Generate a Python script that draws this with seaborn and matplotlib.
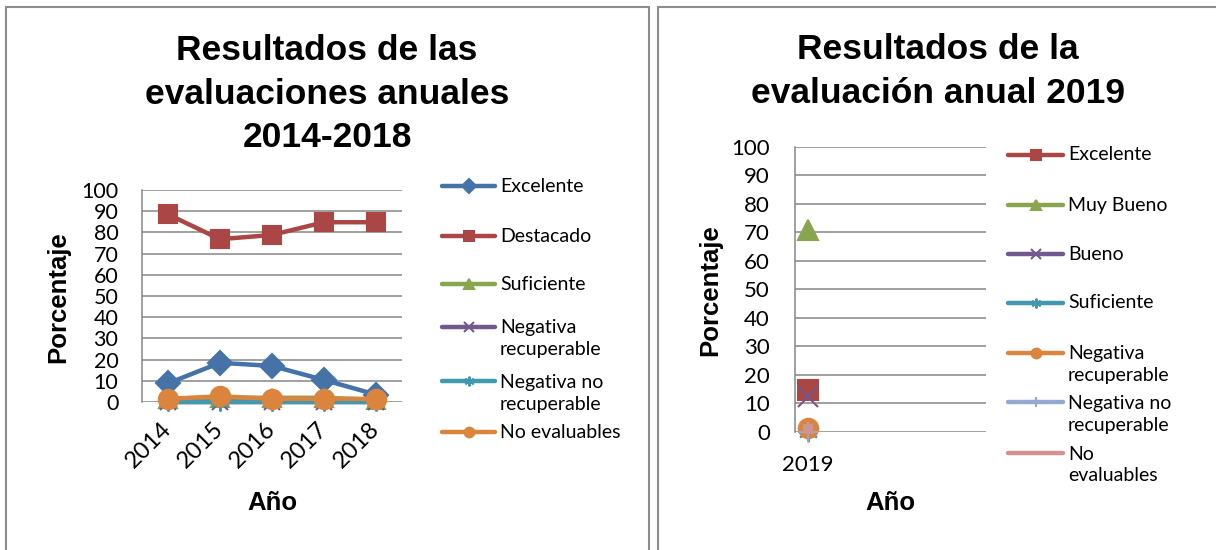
import matplotlib
matplotlib.use("Agg")
import matplotlib.pyplot as plt
import seaborn as sns
from matplotlib.lines import Line2D
from matplotlib.patches import Rectangle

# --------------------------------------------------
# Datos
# --------------------------------------------------
anios_a = ["2014", "2015", "2016", "2017", "2018"]
excelente_a = [8.8, 18.5, 17.0, 10.4, 3.5]
destacado_a = [88.5, 76.8, 78.8, 84.8, 84.8]
suficiente_a = [1.5, 2.0, 2.0, 2.0, 1.0]
neg_rec_a = [0, 0, 0, 0, 0]
neg_norec_a = [0, 0, 0, 0, 0]
no_eval_a = [1.5, 2.7, 1.5, 1.5, 1.5]
nombres_a = ["Excelente", "Destacado", "Suficiente",
             "Negativa\nrecuperable", "Negativa no\nrecuperable", "No evaluables"]

anio_b = ["2019"]
excelente_b = [14.6]
muy_bueno_b = [70.7]
bueno_b = [12.3]
suficiente_b = [0]
neg_rec_b = [1.2]
neg_norec_b = [0]
no_eval_b = [1.0]
nombres_b = ["Excelente", "Muy Bueno", "Bueno", "Suficiente",
             "Negativa\nrecuperable", "Negativa no\nrecuperable", "No\nevaluables"]

yticks = list(range(0, 101, 10))

# estilos (colores Excel 2007)
AZUL, ROJO, VERDE, MORADO = "#4572A7", "#AA4643", "#89A54E", "#71588F"
TURQ, NARANJA, CELESTE, ROSA = "#4198AF", "#DB843D", "#93A9CF", "#D19392"
ASTER = (6, 2, 0)

estilo_a = [(AZUL, "D", 12), (ROJO, "s", 13), (VERDE, "^", 13),
            (MORADO, "x", 12), (TURQ, ASTER, 13), (NARANJA, "o", 14)]
estilo_b = [(ROJO, "s", 15), (VERDE, "^", 15), (MORADO, "x", 14),
            (TURQ, ASTER, 14), (NARANJA, "o", 14), (CELESTE, "+", 14), (ROSA, "s", 6)]

sns.set_style("white")
plt.rcParams["font.family"] = ["Lato", "DejaVu Sans"]
for k in ["text.color", "axes.labelcolor", "xtick.color", "ytick.color"]:
    plt.rcParams[k] = "black"
BOLD = ["Liberation Sans", "DejaVu Sans"]
GRIS = "#868686"

W, H = 1216, 550
fig = plt.figure(figsize=(W / 100, H / 100), dpi=100)


def fx(x):
    return x / W


def fy(y):
    return 1 - y / H


def ejes(x0, y0, x1, y1):
    return fig.add_axes([fx(x0), fy(y1), fx(x1 - x0), (y1 - y0) / H])


# marcos de los dos gráficos
for (x0, x1) in [(5.5, 649), (657.5, 1230)]:
    fig.patches.append(Rectangle((fx(x0), fy(560)), fx(x1 - x0), (560 - 6.5) / H,
                                 transform=fig.transFigure, fill=False,
                                 edgecolor="#8c8c8c", linewidth=1.5, zorder=0))


def preparar(ax):
    ax.set_ylim(0, 100)
    ax.set_yticks(yticks)
    ax.grid(axis="y", color=GRIS, linewidth=1.1)
    ax.grid(axis="x", visible=False)
    for s in ["top", "right", "bottom"]:
        ax.spines[s].set_visible(False)
    ax.spines["left"].set_color(GRIS)
    ax.spines["left"].set_linewidth(1.1)
    ax.tick_params(length=0)
    ax.set_xlabel("")
    ax.set_ylabel("")


def leyenda(x0, x1, ys_handle, ys_text, nombres, estilos):
    for yh, yt, nom, (c, m, _) in zip(ys_handle, ys_text, nombres, estilos):
        mk = m if (c != ROSA) else "None"
        fig.add_artist(Line2D([fx(x0), fx((x0 + x1) / 2), fx(x1)], [fy(yh)] * 3,
                              transform=fig.transFigure, color=c, linewidth=3.2,
                              solid_capstyle="round", marker=mk, markevery=[1],
                              markersize=7, markeredgewidth=1.5, markeredgecolor=c))
        fig.text(fx(x1 + 5), fy(yt), nom, fontsize=14, ha="left", va="center",
                 linespacing=1.32)


# --------------------------------------------------
# Gráfico 1: 2014-2018
# --------------------------------------------------
ax1 = ejes(142, 190, 402, 402)
pos_a = list(range(len(anios_a)))
for vals, (c, m, ms) in zip([excelente_a, destacado_a, suficiente_a, neg_rec_a,
                             neg_norec_a, no_eval_a], estilo_a):
    sns.lineplot(x=pos_a, y=vals, ax=ax1, color=c, marker=m, markersize=ms,
                 linewidth=3.2, markeredgecolor=c, markeredgewidth=1.5,
                 legend=False, clip_on=False)
preparar(ax1)
ax1.set_xlim(-0.5, len(anios_a) - 0.5)
ax1.set_xticks(pos_a)
ax1.set_xticklabels(anios_a, rotation=45, ha="right", va="center",
                    rotation_mode="anchor", fontsize=17)
ax1.tick_params(axis="x", pad=17)
ax1.tick_params(axis="y", labelsize=15.5, pad=17)

fig.text(fx(327), fy(94), "Resultados de las\nevaluaciones anuales\n2014-2018",
         family=BOLD, weight="bold", fontsize=25.5, ha="center", va="center",
         linespacing=1.42)
fig.text(fx(58), fy(297), "Porcentaje", family=BOLD, weight="bold", fontsize=18.5,
         rotation=90, ha="center", va="center")
fig.text(fx(272), fy(503), "Año", family=BOLD, weight="bold", fontsize=18.5,
         ha="center", va="center")
leyenda(442, 495, [186, 236, 284, 327, 381, 432], [186, 236, 284, 338.5, 393.5, 432],
        nombres_a, estilo_a)

# --------------------------------------------------
# Gráfico 2: 2019
# --------------------------------------------------
ax2 = ejes(795, 146.7, 986, 431.7)
pos_b = list(range(len(anio_b)))
for vals, (c, m, ms) in zip([excelente_b, muy_bueno_b, bueno_b, suficiente_b,
                             neg_rec_b, neg_norec_b, no_eval_b], estilo_b):
    sns.lineplot(x=pos_b, y=vals, ax=ax2, color=c, marker=m, markersize=ms,
                 linewidth=3.2, markeredgecolor=c, markeredgewidth=1.5,
                 legend=False, clip_on=False)
preparar(ax2)
ax2.set_xlim(-0.5, 6.85)
ax2.set_xticks(pos_b)
ax2.set_xticklabels(anio_b, fontsize=16)
ax2.tick_params(axis="x", pad=17)
ax2.tick_params(axis="y", labelsize=16, pad=18)

fig.text(fx(938), fy(71.5), "Resultados de la\nevaluación anual 2019",
         family=BOLD, weight="bold", fontsize=25.5, ha="center", va="center",
         linespacing=1.42)
fig.text(fx(710), fy(290), "Porcentaje", family=BOLD, weight="bold", fontsize=18.5,
         rotation=90, ha="center", va="center")
fig.text(fx(890), fy(503), "Año", family=BOLD, weight="bold", fontsize=18.5,
         ha="center", va="center")
leyenda(1008, 1063, [155, 205, 254, 303, 353, 402, 453],
        [155, 205, 254, 303, 364.5, 414.5, 465], nombres_b, estilo_b)

fig.savefig("out.png", dpi=100)
